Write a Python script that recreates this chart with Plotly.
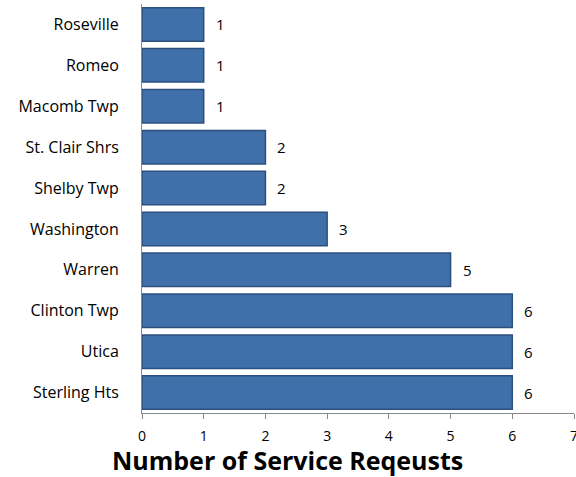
import plotly.graph_objects as go

categories = ["Sterling Hts", "Utica", "Clinton Twp", "Warren", "Washington",
              "Shelby Twp", "St. Clair Shrs", "Macomb Twp", "Romeo", "Roseville"]
values = [6, 6, 6, 5, 3, 2, 2, 1, 1, 1]
x_ticks = [0, 1, 2, 3, 4, 5, 6, 7]
axis_title = "Number of Service Reqeusts"

FONT = "Open Sans"

fig = go.Figure()
fig.add_trace(go.Bar(
    y=categories, x=values, orientation="h",
    marker=dict(color="#4070A9", line=dict(color="#2B4F7E", width=1.5)),
    width=0.82, hoverinfo="skip",
))
for c, v in zip(categories, values):
    fig.add_annotation(x=v, y=c, text=str(v), showarrow=False, xanchor="left",
                       xshift=10, font=dict(family=FONT, size=15, color="#000"))

fig.add_annotation(x=(287.5 - 142) / 433, y=-0.115, xref="paper", yref="paper",
                   text="<b>" + axis_title + "</b>",
                   showarrow=False, xanchor="center", yanchor="middle",
                   font=dict(family=FONT, size=25, color="#000"))

fig.update_layout(
    width=576, height=477,
    margin=dict(l=142, r=2, t=4, b=64),
    plot_bgcolor="white", paper_bgcolor="white",
    showlegend=False,
    font=dict(family=FONT, size=15, color="#000"),
    xaxis=dict(range=[0, 7], tickvals=x_ticks, showgrid=False, zeroline=False,
               showline=True, linecolor="#888", linewidth=1, automargin=False,
               ticks="outside", ticklen=5, tickcolor="#888", tickfont=dict(size=14),
               ticklabeloverflow="allow", ticklabelstandoff=5),
    yaxis=dict(showgrid=False, zeroline=False, showline=True, linecolor="#888", linewidth=1,
               ticks="", tickfont=dict(size=16), automargin=False, ticklabelstandoff=19,
               categoryorder="array", categoryarray=categories),
)
fig.write_html("out.html", config={"displayModeBar": False},
               post_script="document.body.style.margin='0';document.body.style.overflow='hidden';")
